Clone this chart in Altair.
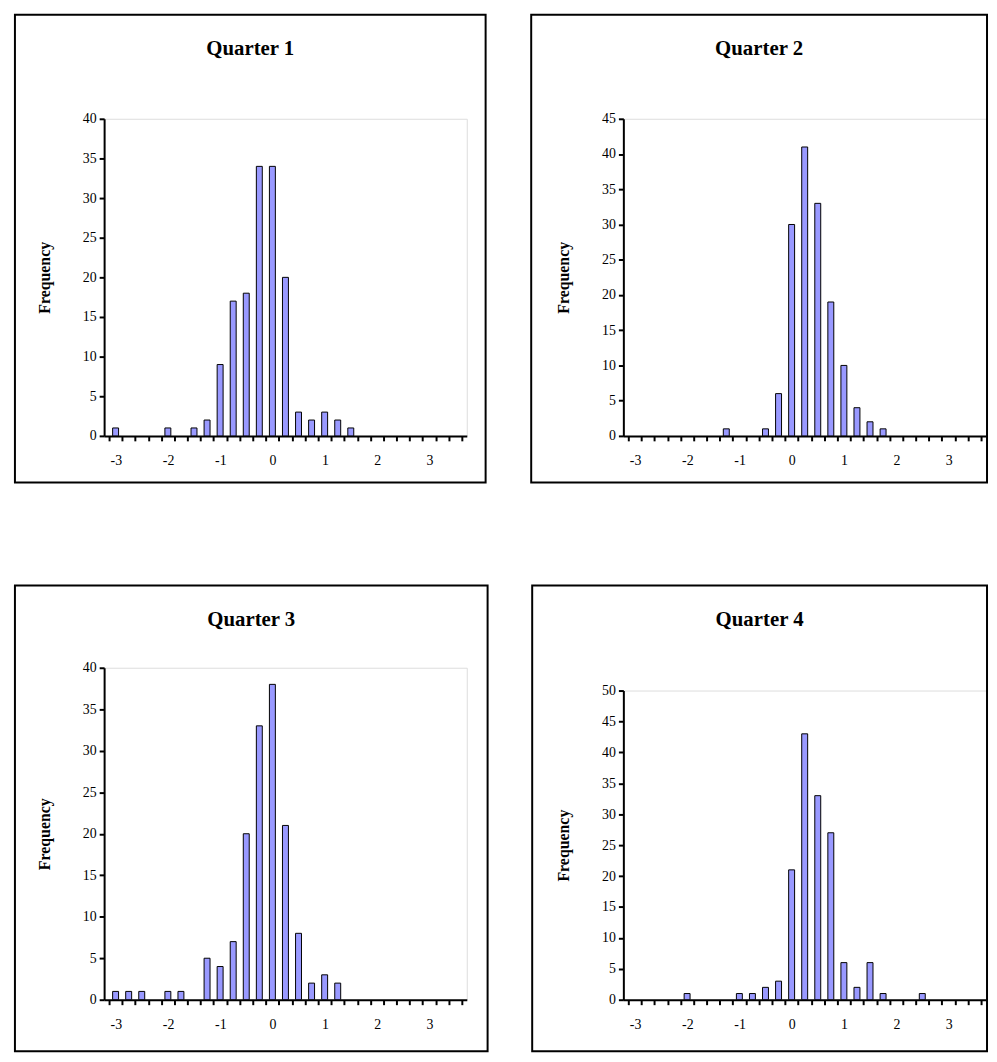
import pandas as pd
import altair as alt

# bin centres, -3 to 3.5 in steps of 0.25
bins = [-3 + 0.25 * i for i in range(27)]

q1 = [1, 0, 0, 0, 1, 0, 1, 2, 9, 17, 18, 34, 34, 20, 3, 2, 3, 2, 1, 0, 0, 0, 0, 0, 0, 0, 0]
q2 = [0, 0, 0, 0, 0, 0, 0, 1, 0, 0, 1, 6, 30, 41, 33, 19, 10, 4, 2, 1, 0, 0, 0, 0, 0, 0, 0]
q3 = [1, 1, 1, 0, 1, 1, 0, 5, 4, 7, 20, 33, 38, 21, 8, 2, 3, 2, 0, 0, 0, 0, 0, 0, 0, 0, 0]
q4 = [0, 0, 0, 0, 1, 0, 0, 0, 1, 1, 2, 3, 21, 43, 33, 27, 6, 2, 6, 1, 0, 0, 1, 0, 0, 0, 0]

tick_edges = [-3.125 + 0.25 * i for i in range(28)]
serif = "Liberation Serif"
W = 366


def panel(name, counts, ymax, h, box):
    # box = (left, top, right, bottom) of the black frame, relative to the plot area
    df = pd.DataFrame({"bin": bins, "count": counts})
    df = df[df["count"] > 0]
    bars = alt.Chart(df).mark_bar(size=6, color="#9999ff", stroke="black", strokeWidth=1).encode(
        x=alt.X("bin:Q", scale=alt.Scale(domain=[-3.125, 3.625], nice=False, zero=False),
                axis=alt.Axis(values=tick_edges, title=None, grid=False, domainColor="black",
                              domainWidth=2, tickColor="black", tickWidth=2, tickSize=5,
                              labelOffset=6.8, labelPadding=13, labelFont=serif, labelFontSize=14,
                              labelColor="black",
                              labelExpr="abs(datum.value + 0.125 - round(datum.value + 0.125)) < 0.01 ? toString(round(datum.value + 0.125)) : ''")),
        y=alt.Y("count:Q", scale=alt.Scale(domain=[0, ymax], nice=False),
                axis=alt.Axis(values=list(range(0, ymax + 1, 5)), title="Frequency", grid=False,
                              domainColor="black", domainWidth=2, tickColor="black", tickWidth=2,
                              tickSize=5, labelFont=serif, labelFontSize=14, labelColor="black",
                              labelPadding=3, titleFont=serif, titleFontSize=16, titleFontWeight="bold",
                              titleColor="black", titleX=-52, titleY=h / 2, titleAngle=-90)),
    )
    frame = alt.Chart(df.head(1)).mark_rect(fill=None, stroke="black", strokeWidth=2).encode(
        x=alt.value(box[0]), x2=alt.value(box[2]), y=alt.value(box[1]), y2=alt.value(box[3])
    )
    title = alt.Chart(df.head(1)).mark_text(font=serif, fontSize=21, fontWeight="bold", color="black").encode(
        x=alt.value((box[0] + box[2]) / 2), y=alt.value(box[1] + 35), text=alt.value(name)
    )
    return alt.layer(frame, bars, title).properties(width=W, height=h)


p1 = panel("Quarter 1", q1, 40, 320, (-90, -105, W + 19, 367))
p2 = panel("Quarter 2", q2, 45, 320, (-93, -105, W + 1, 367))
p3 = panel("Quarter 3", q3, 40, 335, (-90, -83, W + 21, 387))
p4 = panel("Quarter 4", q4, 50, 312, (-92, -106, W + 1, 364))

chart = alt.hconcat(
    alt.vconcat(p1, p3, spacing=100),
    alt.vconcat(p2, p4, spacing=100),
    spacing=40,
).properties(padding={"left": 5, "top": 0, "right": 0, "bottom": 0}).configure_view(
    stroke="#909090", strokeWidth=2).configure(background="white")

chart.save("out.html", embed_options={"renderer": "svg", "actions": False})
